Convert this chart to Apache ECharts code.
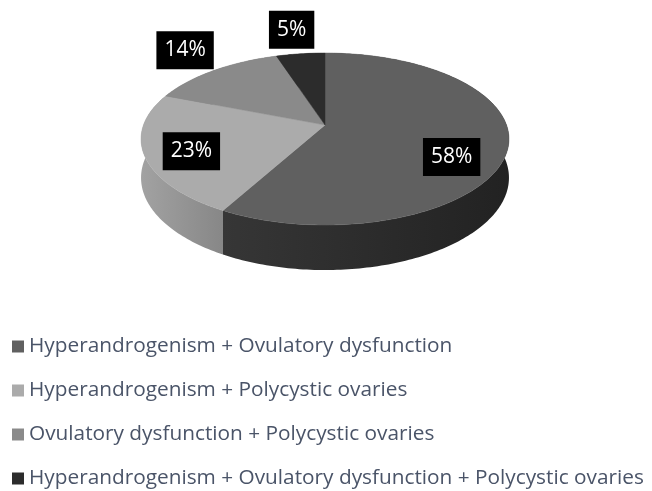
<!DOCTYPE html>
<html>
<head>
<meta charset="utf-8">
<script src="https://cdn.jsdelivr.net/npm/echarts@6/dist/echarts.min.js"></script>
<style>
  html, body { margin: 0; padding: 0; background: #ffffff; }
  #chart { width: 652px; height: 491px; }
</style>
</head>
<body>
<div id="chart"></div>
<script>
// ---- data ----
var categories = [
  'Hyperandrogenism + Ovulatory dysfunction',
  'Hyperandrogenism + Polycystic ovaries',
  'Ovulatory dysfunction + Polycystic ovaries',
  'Hyperandrogenism + Ovulatory dysfunction + Polycystic ovaries'
];
var values = [58, 23, 14, 5];

// ---- style ----
var topColors = ['#606060', '#ababab', '#8a8a8a', '#2c2c2c'];
var sideLeft  = ['#363636', '#a2a2a2', '#7a7a7a', '#222222'];
var sideRight = ['#222222', '#878787', '#666666', '#161616'];
var labelRadius = [0.70, 0.75, 1.30, 1.45];
var labelDy = [17, 4, -6, 2];

var geo = { cx: 325, cy: 125, R: 181.5, B: 83.7, k: 0.163, D: 37.7 };

function project(theta, rho, h) {
  var u = rho * Math.sin(theta);
  var v = -rho * Math.cos(theta);
  var s = 1 / (1 - geo.k * v);
  return [geo.cx + geo.R * u * s, geo.cy + geo.B * v * s + h * geo.D * s];
}

var total = values.reduce(function (a, b) { return a + b; }, 0);

function makeRender(idx) {
  return function (params, api) {
    var val = api.value(0);
    var before = 0;
    for (var j = 0; j < idx; j++) before += values[j];
    var a0 = before / total * Math.PI * 2;
    var a1 = (before + val) / total * Math.PI * 2;
    var steps = Math.max(4, Math.ceil((a1 - a0) / (Math.PI / 180)));
    var topPts = [[geo.cx, geo.cy]];
    var rimTop = [], rimBot = [];
    for (var n = 0; n <= steps; n++) {
      var t = a0 + (a1 - a0) * n / steps;
      var p = project(t, 1, 0);
      topPts.push(p);
      rimTop.push(p);
      rimBot.push(project(t, 1, 1));
    }
    var wallPts = rimTop.concat(rimBot.slice().reverse());
    var xs = wallPts.map(function (p) { return p[0]; });
    var minX = Math.min.apply(null, xs), maxX = Math.max.apply(null, xs);
    var mid = (a0 + a1) / 2;
    var lp = project(mid, labelRadius[idx], 0);
    var pct = Math.round(val / total * 100) + '%';
    return {
      type: 'group',
      children: [
        {
          type: 'polygon',
          z2: 1,
          shape: { points: wallPts },
          style: {
            fill: new echarts.graphic.LinearGradient(minX, 0, maxX, 0, [
              { offset: 0, color: sideLeft[idx] },
              { offset: 1, color: sideRight[idx] }
            ], true),
            stroke: null
          }
        },
        {
          type: 'polygon',
          z2: 10,
          shape: { points: topPts },
          style: { fill: topColors[idx], stroke: topColors[idx], lineWidth: 0.5 }
        },
        {
          type: 'text',
          z2: 20,
          x: lp[0],
          y: lp[1] + labelDy[idx],
          style: {
            text: pct,
            fill: '#ffffff',
            font: '21px "Open Sans"',
            align: 'center',
            verticalAlign: 'middle',
            backgroundColor: '#000000',
            padding: [5, 8, 5, 8],
            lineHeight: 28
          }
        }
      ]
    };
  };
}

var series = categories.map(function (name, i) {
  return {
    type: 'custom',
    name: name,
    coordinateSystem: 'none',
    silent: true,
    itemStyle: { color: topColors[i] },
    renderItem: makeRender(i),
    data: [[values[i]]]
  };
});

var chart = echarts.init(document.getElementById('chart'), null, { renderer: 'canvas' });
chart.setOption({
  animation: false,
  backgroundColor: '#ffffff',
  legend: {
    orient: 'vertical',
    left: 12,
    top: 336,
    height: 160,
    padding: 0,
    itemWidth: 12,
    itemHeight: 12,
    itemGap: 23,
    icon: 'rect',
    selectedMode: false,
    data: categories,
    textStyle: {
      fontFamily: 'Open Sans',
      fontSize: 20.8,
      lineHeight: 20,
      color: '#4a5468'
    }
  },
  series: series
});
</script>
</body>
</html>
